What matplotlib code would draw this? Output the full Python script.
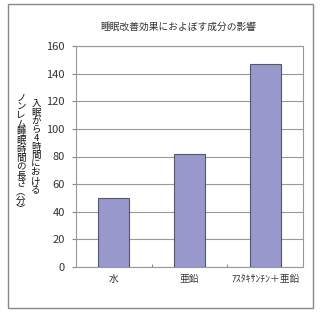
import matplotlib.pyplot as plt
import matplotlib
from matplotlib.patches import Rectangle

matplotlib.rcParams["font.family"] = ["Noto Sans CJK JP", "DejaVu Sans"]

# ---- データ ----
categories = ["水", "亜鉛", "ｱｽﾀｷｻﾝﾁﾝ＋亜鉛"]
values = [50, 82, 147]
yticks = [0, 20, 40, 60, 80, 100, 120, 140, 160]

title = "睡眠改善効果におよぼす成分の影響"
ylabel_right = "入眠から4時間における"
ylabel_left = "ノンレム睡眠時間の長さ︵分︶"


def plot():
    fig = plt.figure(figsize=(3.2, 3.14), dpi=100)
    # 外枠
    fig.patches.append(Rectangle((8 / 320, 1 - 308 / 314), 305 / 320, 304 / 314,
                                 transform=fig.transFigure, fill=False,
                                 edgecolor="#888888", linewidth=1.0))

    ax = fig.add_axes([76 / 320, 1 - 267 / 314, 227 / 320, 221 / 314])
    x = list(range(len(categories)))
    ax.bar(x, values, width=0.41, color="#9898CC", edgecolor="#555570",
           linewidth=0.8, zorder=3)

    ax.set_xlim(-0.5, 2.5)
    ax.set_ylim(0, 160)
    ax.set_yticks(yticks)
    ax.set_yticklabels([str(v) for v in yticks], fontsize=8, color="#333333")
    ax.set_xticks([0.5, 1.5])
    ax.set_xticklabels([])
    ax.tick_params(axis="x", direction="in", length=2, color="#888888")
    ax.tick_params(axis="y", direction="out", length=3, color="#888888", pad=5)
    for i, c in enumerate(categories):
        ax.text(i, -9, c, ha="center", va="center", fontsize=7, color="#333333")

    ax.grid(axis="y", color="#999999", linewidth=0.8, zorder=0)
    for s in ax.spines.values():
        s.set_color("#999999")
        s.set_linewidth(0.8)

    fig.text(178 / 320, 1 - 27 / 314, title, ha="center", va="center",
             fontsize=7, color="#333333")

    # 縦書きの軸ラベル
    fig.text(36 / 320, 1 - 100 / 314, "\n".join(ylabel_right), ha="center",
             va="top", fontsize=6.8, linespacing=0.93, color="#111111")
    fig.text(21 / 320, 1 - 94 / 314, "\n".join(ylabel_left), ha="center",
             va="top", fontsize=6.8, linespacing=0.93, color="#111111")

    fig.savefig("out.png", dpi=100)


if __name__ == "__main__":
    plot()
